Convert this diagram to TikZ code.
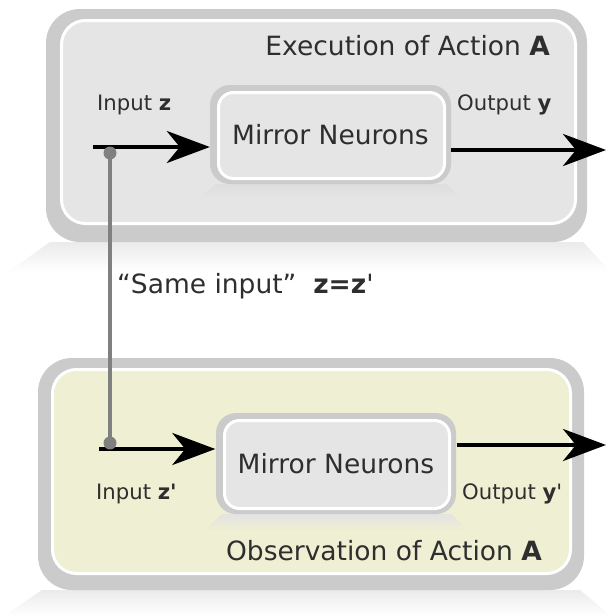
\documentclass[tikz,border=0pt]{standalone}
\usepackage{fontspec}
\newfontfamily\dejavu{DejaVu Sans}
\usetikzlibrary{arrows.meta,calc}

\definecolor{rimgray}{HTML}{CBCBCB}
\definecolor{panelgray}{HTML}{E5E5E5}
\definecolor{panelbeige}{HTML}{EFEFD3}
\definecolor{linkgray}{HTML}{808080}
\definecolor{inkgray}{HTML}{2E2E2E}

\tikzset{
  rim/.style={fill=rimgray},
  panel/.style={draw=white, line width=3pt},
  bigtext/.style={font=\dejavu\fontsize{26.5}{30}\selectfont, text=inkgray, inner sep=0pt},
  smalltext/.style={font=\dejavu\fontsize{21.2}{25}\selectfont, text=inkgray, inner sep=0pt},
  mirrorbox/.style={bigtext, minimum width=241pt, minimum height=99pt, inner sep=0pt},
  flow/.style={line width=4pt, -{Stealth[length=43pt, width=32pt, inset=13pt]}},
  link/.style={draw=linkgray, line width=3.5pt},
  joint/.style={circle, fill=linkgray, minimum size=13pt, inner sep=0pt},
}

\begin{document}
\begin{tikzpicture}[x=1pt, y=-1pt]
\useasboundingbox (0,0) rectangle (611,616);

% soft reflections under the two frames
\shade[top color=black!8, bottom color=white]
  (50,242) -- (583,242) -- (611,272) -- (8,272) -- cycle;
\shade[top color=black!8, bottom color=white]
  (42,590) -- (580,590) -- (611,616) -- (4,616) -- cycle;

% frame: execution
\fill[rim, rounded corners=34pt] (46,9) rectangle (587,242);
\filldraw[panel, fill=panelgray, rounded corners=24pt] (61.5,20.5) rectangle (575.5,223.5);

% frame: observation
\fill[rim, rounded corners=34pt] (38,358) rectangle (584,590);
\filldraw[panel, fill=panelbeige, rounded corners=24pt] (52.5,369.5) rectangle (570.5,573.5);

% mirror neuron blocks (reflection, rim, inner panel)
\shade[top color=black!13, bottom color=panelgray]
  (216,184) -- (446,184) -- (462,198) -- (200,198) -- cycle;
\fill[rim, rounded corners=20pt] (210,85) rectangle (451,184);
\filldraw[panel, fill=panelgray, rounded corners=15pt] (218.5,92.5) rectangle (444.5,178.5);

\shade[top color=black!11, bottom color=panelbeige]
  (222,514) -- (451,514) -- (468,530) -- (205,530) -- cycle;
\fill[rim, rounded corners=20pt] (216,413) rectangle (456,514);
\filldraw[panel, fill=panelgray, rounded corners=15pt] (224.5,420.5) rectangle (449.5,508.5);

% block labels
\node[mirrorbox] (mnA) at (330.5,134.5) {Mirror Neurons};
\node[mirrorbox] (mnB) at (336,463.5) {Mirror Neurons};

% frame titles and signal labels
\node[bigtext, anchor=base east] (titleA) at (550,55) {Execution of Action \textbf{A}};
\node[bigtext, anchor=base east] (titleB) at (542,560) {Observation of Action \textbf{A}};
\node[smalltext, anchor=base west] (labInA) at (97,110) {Input \textbf{z}};
\node[smalltext, anchor=base west] (labOutA) at (457,110) {Output \textbf{y}};
\node[smalltext, anchor=base west] (labInB) at (96,499) {Input \textbf{z'}};
\node[smalltext, anchor=base west] (labOutB) at (462,499) {Output \textbf{y}'};
\node[bigtext, anchor=base west] (same) at (117,293) {“Same input”\ \ \textbf{z=z}'};

% signal end points
\coordinate (inA) at (93,147);
\coordinate (outA) at (606,150);
\coordinate (inB) at (99,449);
\coordinate (outB) at (606,445);

% input and output arrows
\draw[flow] (inA) -- (inA -| mnA.west);
\draw[flow] (mnA.east |- outA) -- (outA);
\draw[flow] (inB) -- (inB -| mnB.west);
\draw[flow] (mnB.east |- outB) -- (outB);

% link between the two inputs
\node[joint] (jA) at (110,153) {};
\node[joint] (jB) at (110,443) {};
\draw[link] (jA.center) -- (jB.center);
\end{tikzpicture}
\end{document}
